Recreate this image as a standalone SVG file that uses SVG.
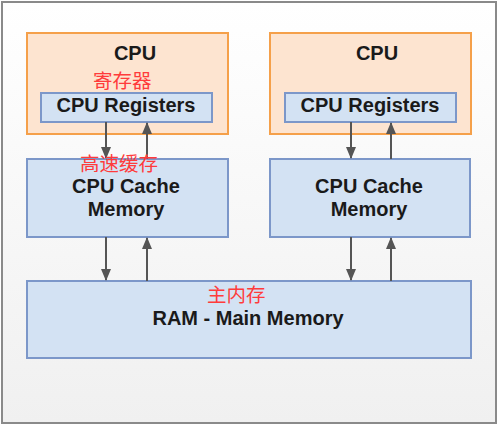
<svg xmlns="http://www.w3.org/2000/svg" width="498" height="425" viewBox="0 0 498 425">
<defs>
<linearGradient id="bg" x1="0" y1="0" x2="0" y2="1">
<stop offset="0" stop-color="#ffffff"/>
<stop offset="1" stop-color="#f0f0f0"/>
</linearGradient>
<marker id="ah" viewBox="0 0 12 10" refX="11" refY="5" markerWidth="12" markerHeight="10" markerUnits="userSpaceOnUse" orient="auto">
<path d="M0,0 L12,5 L0,10 z" fill="#555"/>
</marker>
<style>
.cpu{fill:#fde4d0;stroke:#f5a04a;stroke-width:2}
.blue{fill:#d3e2f3;stroke:#7c97c9;stroke-width:2}
.t{font-family:"Liberation Sans",Arial,sans-serif;font-weight:bold;fill:#1a1a1a;text-anchor:middle;font-size:20px}
.cn{font-family:"Noto Sans CJK SC",sans-serif;fill:#ff3b3b;font-size:19.5px}
.ar{stroke:#555;stroke-width:2;fill:none;marker-end:url(#ah)}
</style>
</defs>
<rect x="2" y="2" width="494" height="421" fill="url(#bg)" stroke="#8a8a8a" stroke-width="2"/>
<g id="cpu1">
<rect class="cpu" x="27" y="33" width="201" height="101"/>
<text class="t" x="135" y="60">CPU</text>
</g>
<g id="cpu2">
<rect class="cpu" x="270" y="33" width="201" height="101"/>
<text class="t" x="377" y="60">CPU</text>
</g>
<g id="reg1">
<rect class="blue" x="41" y="93" width="171" height="29"/>
<text class="t" x="126" y="112">CPU Registers</text>
</g>
<g id="reg2">
<rect class="blue" x="285" y="93" width="171" height="29"/>
<text class="t" x="370" y="112">CPU Registers</text>
</g>
<g id="cache1">
<rect class="blue" x="27" y="159" width="201" height="78"/>
<text class="t" x="126" y="193">CPU Cache</text>
<text class="t" x="126" y="216">Memory</text>
</g>
<g id="cache2">
<rect class="blue" x="270" y="159" width="200" height="78"/>
<text class="t" x="369" y="193">CPU Cache</text>
<text class="t" x="369" y="216">Memory</text>
</g>
<g id="ram">
<rect class="blue" x="27" y="281" width="444" height="77"/>
<text class="t" x="248" y="325">RAM - Main Memory</text>
</g>
<g id="connectors">
<line class="ar" x1="106" y1="122" x2="106" y2="158"/>
<line class="ar" x1="147" y1="159" x2="147" y2="123"/>
<line class="ar" x1="351" y1="122" x2="351" y2="158"/>
<line class="ar" x1="391" y1="159" x2="391" y2="123"/>
<line class="ar" x1="106" y1="237" x2="106" y2="280"/>
<line class="ar" x1="147" y1="281" x2="147" y2="238"/>
<line class="ar" x1="351" y1="237" x2="351" y2="280"/>
<line class="ar" x1="391" y1="281" x2="391" y2="238"/>
</g>
<g id="labels">
<text class="cn" x="93" y="88">寄存器</text>
<text class="cn" x="80" y="171">高速缓存</text>
<text class="cn" x="207" y="302">主内存</text>
</g>
</svg>
